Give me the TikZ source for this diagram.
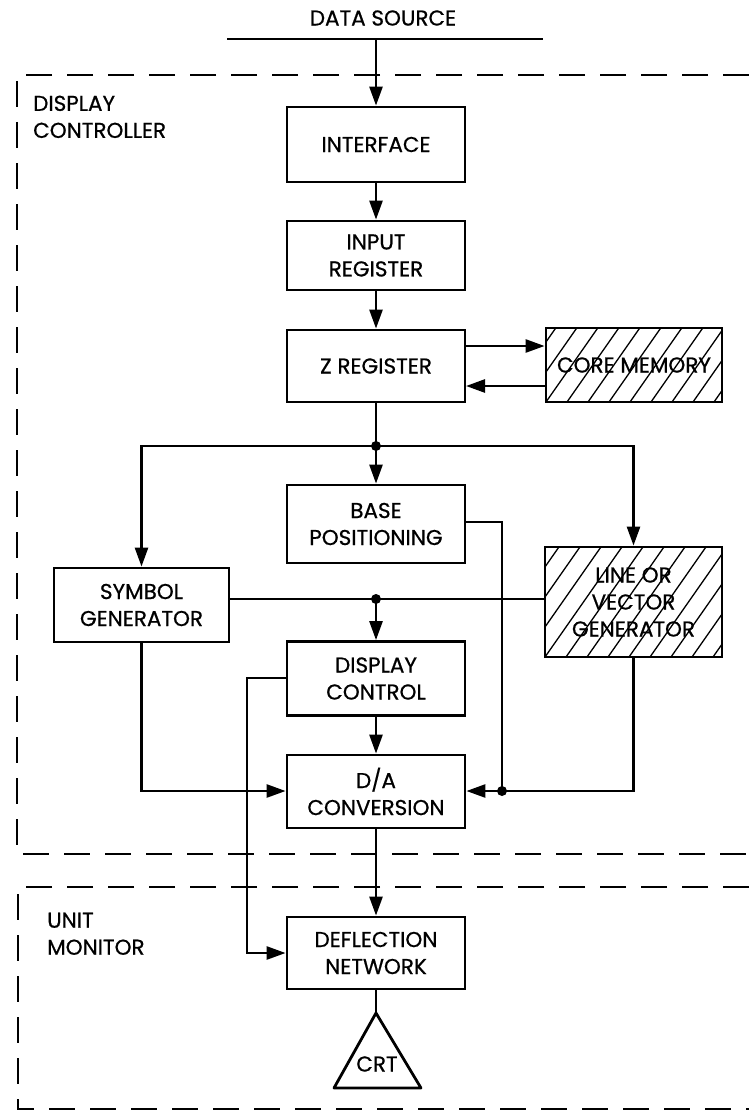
\documentclass[tikz,border=0pt]{standalone}
\usepackage{fontspec}
\setmainfont{Poppins}[FakeBold=0.7]
\usetikzlibrary{arrows.meta}
\newcommand\dfont{\fontsize{21.5}{27}\selectfont}
\begin{document}
\begin{tikzpicture}[x=1pt,y=-1pt,
  blk/.style={draw, line width=2.8pt, minimum width=178pt, inner sep=0pt, align=center, font=\dfont},
  conn/.style={line width=2.6pt},
  arr/.style={conn, -{Triangle[length=19pt,width=13pt]}},
  dashbox/.style={line width=2.8pt, dash pattern=on 26pt off 15pt},
  lbl/.style={align=left, anchor=north west, inner sep=0pt, font=\dfont},
  dot/.style={circle, fill, inner sep=0pt, minimum size=10pt},
  hatch/.style={path picture={\foreach \i in {-9,...,11}
      \draw[line width=1.3pt] ([xshift=\i*21pt]path picture bounding box.south west) -- ++(100,-143);}}
]
\fill[white] (0,0) rectangle (749,1113);
\useasboundingbox (0,0) rectangle (749,1113);

% dashed enclosures
\draw[dashbox] (749,75) -- (17,75) -- (17,854) -- (749,854);
\draw[dashbox] (749,887) -- (18,887) -- (18,1109) -- (749,1109);
\node[lbl] (lblctrl) at (33,95.5) {DISPLAY\\CONTROLLER};
\node[lbl] (lblmon) at (47,912.5) {UNIT\\MONITOR};

% data source
\node[inner sep=0pt, font=\dfont] (ds) at (383,18) {DATA SOURCE};
\coordinate (dsl) at (227,39);
\coordinate (dsr) at (543,39);
\coordinate (dsj) at (376,39);
\draw[conn] (dsl) -- (dsr);

% blocks
\node[blk, minimum height=75pt] (intf) at (376,144.5) {INTERFACE};
\node[blk, minimum height=69pt] (inreg) at (376,255.5) {INPUT\\REGISTER};
\node[blk, minimum height=72pt] (zreg) at (376,366) {Z REGISTER};
\node[blk, hatch, minimum width=176pt, minimum height=74pt] (core) at (634,365) {CORE MEMORY};
\node[blk, minimum height=78pt] (base) at (376,524) {BASE\\POSITIONING};
\node[blk, minimum width=175pt, minimum height=74pt] (sym) at (141.5,605) {SYMBOL\\GENERATOR};
\node[blk, hatch, minimum width=177pt, minimum height=110pt] (lv) at (633.5,602) {LINE OR\\VECTOR\\GENERATOR};
\node[blk, minimum height=74pt] (dc) at (376,678.5) {DISPLAY\\CONTROL};
\node[blk, minimum height=73pt] (da) at (376,791.5) {D/A\\CONVERSION};
\node[blk, minimum height=72pt] (defl) at (376,953) {DEFLECTION\\NETWORK};

% CRT
\coordinate (crtapex) at (376,1013);
\coordinate (crtr) at (421,1088);
\coordinate (crtl) at (334,1088);
\draw[line width=2.8pt, line join=round] (crtapex) -- (crtr) -- (crtl) -- cycle;
\node[inner sep=0pt, font=\dfont] (crt) at (377,1064) {CRT};

% connectors
\draw[arr] (dsj) -- (intf.north);
\draw[arr] (intf.south) -- (inreg.north);
\draw[arr] (inreg.south) -- (zreg.north);
\coordinate (zu) at (466,346);
\coordinate (zd) at (466,386);
\draw[arr] (zu) -- (core.west |- zu);
\draw[arr] (core.west |- zd) -- (zd);

\coordinate (j1) at (376,446);
\draw[conn] (zreg.south) -- (j1);
\draw[arr] (j1) -| (sym.north);
\draw[arr] (j1) -| (lv.north);
\draw[arr] (j1) -- (base.north);
\node[dot] (d1) at (j1) {};

\coordinate (j2) at (376,599);
\draw[conn] (sym.east |- j2) -- (lv.west |- j2);
\draw[arr] (j2) -- (dc.north);
\node[dot] (d2) at (j2) {};

\coordinate (bx) at (502,522);
\coordinate (j3) at (502,791);
\draw[conn] (base.east |- bx) -- (bx) -- (j3);
\draw[conn] (lv.south) |- (j3);
\draw[arr] (j3) -- (da.east |- j3);
\node[dot] (d3) at (j3) {};
\draw[arr] (sym.south) |- (da.west |- j3);
\draw[arr] (dc.south) -- (da.north);
\draw[arr] (da.south) -- (defl.north);
\coordinate (dcl) at (247,678);
\draw[arr] (dc.west |- dcl) -- (dcl) |- (defl.west);
\draw[conn] (defl.south) -- (crtapex);
\end{tikzpicture}
\end{document}
